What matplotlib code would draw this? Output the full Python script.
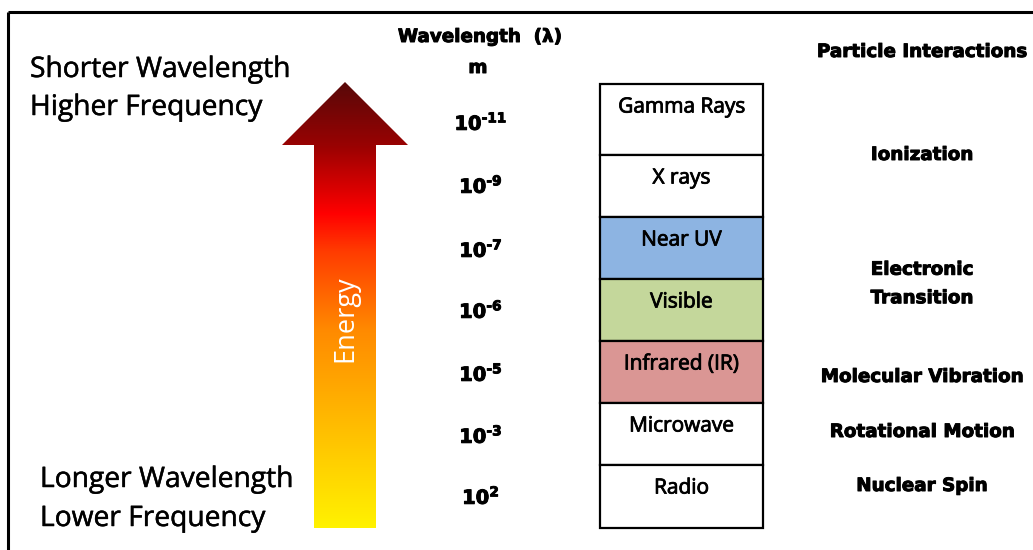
import matplotlib
matplotlib.use("Agg")
import matplotlib.pyplot as plt
import numpy as np
from matplotlib.patches import Polygon, Rectangle
from matplotlib.colors import LinearSegmentedColormap
import matplotlib.patheffects as pe

# ---- data ----
regions = ["Gamma Rays", "X rays", "Near UV", "Visible", "Infrared (IR)", "Microwave", "Radio"]
region_colors = ["#FFFFFF", "#FFFFFF", "#8DB4E2", "#C4D79B", "#DA9694", "#FFFFFF", "#FFFFFF"]
wavelength_exponents = ["-11", "-9", "-7", "-6", "-5", "-3", "2"]
interactions = ["Particle Interactions", "Ionization", "Electronic\nTransition",
                "Molecular Vibration", "Rotational Motion", "Nuclear Spin"]

# ---- layout (pixel coordinates) ----
W, H = 1033, 550
box_x0, box_x1 = 600, 763
box_edges = [84, 155, 217, 279, 341, 403, 465, 528]
wl_x = 478
wl_y = [123, 186, 250, 311, 374, 436, 497]
inter_x = 922
inter_y = [52, 155, 284, 377, 432, 486]

fig = plt.figure(figsize=(W / 100, H / 100), dpi=100)
ax = fig.add_axes([0, 0, 1, 1])
ax.set_xlim(0, W)
ax.set_ylim(H, 0)
ax.axis("off")

# border (top and left)
ax.plot([8, W + 5], [12, 12], color="black", lw=2.2, solid_capstyle="butt")
ax.plot([8, 8], [12, H + 5], color="black", lw=2.2, solid_capstyle="butt")

# arrow with gradient
tip_y, base_y, bottom_y = 82, 145, 528
head_x0, head_x1 = 282, 408
shaft_x0, shaft_x1 = 314, 376
arrow_pts = [(345, tip_y), (head_x1, base_y), (shaft_x1, base_y), (shaft_x1, bottom_y),
             (shaft_x0, bottom_y), (shaft_x0, base_y), (head_x0, base_y)]
poly = Polygon(arrow_pts, closed=True, facecolor="none", edgecolor="none")
ax.add_patch(poly)
span = bottom_y - tip_y
stops = [(0.0, "#580808"), ((145 - tip_y) / span, "#990202"), ((213 - tip_y) / span, "#FF0000"),
         ((250 - tip_y) / span, "#FF3A00"), ((330 - tip_y) / span, "#FF8A00"), (1.0, "#FFF200")]
cmap = LinearSegmentedColormap.from_list("energy", stops)
grad = np.linspace(0, 1, 512).reshape(-1, 1)
im = ax.imshow(grad, cmap=cmap, aspect="auto", extent=(head_x0, head_x1, bottom_y, tip_y),
               interpolation="bilinear", zorder=2)
im.set_clip_path(poly)
ax.text(345, 319, "Energy", rotation=90, color="white", fontsize=19.5, family="Open Sans",
        ha="center", va="center", zorder=3)

# left texts
med_fx = [pe.withStroke(linewidth=0.35, foreground="black")]
lt = dict(fontsize=20.3, family="Open Sans", va="center", ha="left", path_effects=med_fx)
ax.text(30, 70, "Shorter Wavelength", **lt)
ax.text(30, 108, "Higher Frequency", **lt)
ax.text(40, 480, "Longer Wavelength", **lt)
ax.text(40, 519, "Lower Frequency", **lt)

bold_fx = [pe.withStroke(linewidth=0.7, foreground="black")]

# wavelength header
ax.text(wl_x + 2, 37, "Wavelength  (λ)", fontsize=13.2, fontweight="bold", family="DejaVu Sans",
        ha="center", va="center", path_effects=bold_fx)
ax.text(wl_x, 68, "m", fontsize=13.2, fontweight="bold", family="DejaVu Sans",
        ha="center", va="center", path_effects=bold_fx)
for e, y in zip(wavelength_exponents, wl_y):
    ax.text(wl_x + 3, y, r"$\mathbf{10^{%s}}$" % e.replace("-", "\u2010"), fontsize=14,
            ha="center", va="center", path_effects=bold_fx)

# region boxes
box_fx = [pe.withStroke(linewidth=0.6, foreground="black")]
for i, (name, col) in enumerate(zip(regions, region_colors)):
    y0, y1 = box_edges[i], box_edges[i + 1]
    ax.add_patch(Rectangle((box_x0, y0), box_x1 - box_x0, y1 - y0, facecolor=col,
                           edgecolor="black", lw=1.6, zorder=2))
    ax.text((box_x0 + box_x1) / 2, y0 + 23, name, fontsize=15, family="Open Sans",
            ha="center", va="center", zorder=3, path_effects=box_fx)

# interactions
for name, y in zip(interactions, inter_y):
    ax.text(inter_x, y, name, fontsize=13.2, fontweight="bold", family="DejaVu Sans",
            ha="center", va="center", linespacing=1.75, path_effects=bold_fx)

fig.savefig("out.png", dpi=100)
